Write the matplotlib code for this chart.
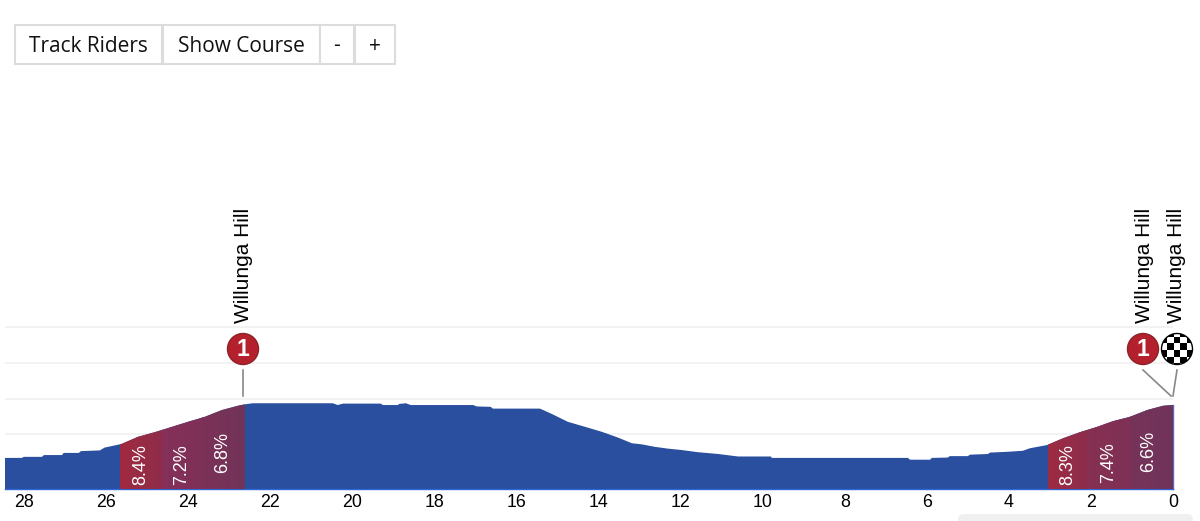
import numpy as np
import matplotlib
matplotlib.use('Agg')
import matplotlib.pyplot as plt
from matplotlib.colors import LinearSegmentedColormap
from matplotlib.patches import Rectangle, Circle, Polygon, FancyBboxPatch

# distance to go (km) and elevation (m)
km = [28.47, 28.06, 28.01, 27.57, 27.52, 27.08, 27.04, 26.67, 26.62, 26.16, 26.04, 25.63, 25.23,
      24.82, 24.40, 24.01, 23.60, 23.18, 22.79, 22.62, 22.43, 20.48, 20.36, 20.23, 19.31, 19.26,
      18.89, 18.87, 18.70, 18.58, 17.06, 16.97, 16.63, 16.58, 15.43, 15.14, 14.75, 14.33, 13.92,
      13.53, 13.19, 12.95, 12.63, 12.31, 11.97, 11.58, 11.09, 10.60, 9.80, 9.78, 6.46, 6.41, 5.92,
      5.88, 5.49, 5.44, 5.00, 4.95, 4.51, 4.46, 4.05, 3.66, 3.49, 3.07, 2.68, 2.27, 1.85, 1.46,
      1.05, 0.63, 0.24, 0.0]
elev = [134, 134, 137, 137, 142, 142, 148, 148, 153, 155, 163, 173, 193,
        206, 221, 235, 249, 268, 280, 284, 287, 287, 282, 286, 286, 282,
        282, 285, 287, 282, 282, 278, 277, 272, 272, 257, 235, 221, 207,
        191, 175, 172, 165, 160, 156, 150, 145, 138, 138, 134, 134, 129, 129,
        134, 135, 139, 139, 143, 145, 149, 151, 154, 161, 170, 189, 206, 221, 237,
        249, 268, 280, 282]

climb_start = [25.66, 24.65, 23.66, 3.05, 2.10, 1.05]
climb_end = [24.65, 23.66, 22.62, 2.10, 1.05, 0.0]
climb_label = ['8.4%', '7.2%', '6.8%', '8.3%', '7.4%', '6.6%']
climb_label_km = [25.16, 24.16, 23.16, 2.56, 1.58, 0.59]
climb_label_elev = [58, 58, 92, 58, 63, 95]
climb_left = ['#a02a40', '#85305a', '#7b3158', '#9e2b42', '#873052', '#773359']
climb_right = ['#8f2d4a', '#7e3157', '#723459', '#8d2d4c', '#7e3156', '#70345b']

tick_km = list(range(0, 29, 2))
grid_elev = [200, 300, 400, 500]
climb_km = [22.62, 0.0]

BLUE = '#2a4f9e'
GRID = '#f0f0f0'

W, H = 1200, 521
fig = plt.figure(figsize=(W / 100, H / 100), dpi=100)
plt.rcParams['font.family'] = ['Liberation Sans', 'DejaVu Sans']

# profile axes, 5..1173 px across and 320..489 px down
ax = fig.add_axes([5 / W, 1 - 489 / H, 1168 / W, 169 / H])
base, top = 47, 520
outline = list(zip(km, elev)) + [(km[-1], base), (km[0], base)]

for y in grid_elev:
    ax.axhline(y, color=GRID, linewidth=1.2, zorder=1)

ax.add_patch(Polygon(outline, closed=True, facecolor=BLUE, edgecolor='none', zorder=2))

for s, e, c0, c1 in zip(climb_start, climb_end, climb_left, climb_right):
    cmap = LinearSegmentedColormap.from_list('seg', [c0, c1])
    im = ax.imshow(np.linspace(0, 1, 64).reshape(1, -1), extent=[s, e, base, top],
                   aspect='auto', cmap=cmap, zorder=3, interpolation='bilinear')
    im.set_clip_path(Polygon(outline, closed=True, transform=ax.transData))

for x, y, t in zip(climb_label_km, climb_label_elev, climb_label):
    ax.text(x, y, t, rotation=90, color='white', fontsize=13, ha='center', va='bottom', zorder=4)

ax.set_xlim(km[0], 0)
ax.set_ylim(base, top)
ax.set_xticks(tick_km)
ax.set_xticklabels([str(k) for k in tick_km], fontsize=12.8, color='black')
ax.set_yticks([])
ax.tick_params(axis='x', length=0, pad=3.5)
for side in ['top', 'left']:
    ax.spines[side].set_visible(False)
ax.spines['bottom'].set_color('#2f66d6')
ax.spines['bottom'].set_linewidth(1)
ax.spines['right'].set_bounds(base, 282)
ax.spines['right'].set_color('#4a72c4')
ax.spines['right'].set_linewidth(1)
ax.patch.set_alpha(0)

# overlay in pixel coordinates for the page furniture
ui = fig.add_axes([0, 0, 1, 1], zorder=5)
ui.set_xlim(0, W)
ui.set_ylim(H, 0)
ui.axis('off')

buttons = [('Track Riders', 14.5, 162), ('Show Course', 162.5, 319.5), ('-', 320, 354), ('+', 355, 395)]
for label, x0, x1 in buttons:
    ui.add_patch(Rectangle((x0, 25), x1 - x0, 39, facecolor='white', edgecolor='#dcdcdc', linewidth=1.5))
    ui.text((x0 + x1) / 2, 46, label, fontsize=15, family='Open Sans', color='#111111', ha='center', va='center')

ui.add_patch(FancyBboxPatch((964, 520), 223, 6, boxstyle='round,pad=6', facecolor='#f0f0f0', edgecolor='none', clip_on=True))


def km_px(k):
    return ax.transData.transform((k, base))[0]


def red_badge(x, y):
    ui.add_patch(Circle((x, y), 15.5, facecolor='#b5202d', edgecolor='#8c2228', linewidth=1))
    ui.text(x, y + 0.5, '1', color='white', fontsize=16.5, fontweight='bold', ha='center', va='center')


hill_x = km_px(climb_km[0])
fin_x = km_px(climb_km[1])

# first climb
ui.plot([hill_x - 2, hill_x - 2], [370, 396], color='#888888', linewidth=1.2)
red_badge(hill_x - 2, 349)
ui.text(hill_x - 1, 323, 'Willunga Hill', rotation=90, fontsize=15, ha='center', va='bottom')

# last climb and finish
ui.plot([fin_x - 30, fin_x - 2], [370, 396], color='#888888', linewidth=1.2)
ui.plot([fin_x + 4, fin_x], [370, 396], color='#888888', linewidth=1.2)
red_badge(fin_x - 30, 349)
ui.text(fin_x - 29, 323, 'Willunga Hill', rotation=90, fontsize=15, ha='center', va='bottom')
ui.text(fin_x + 4, 323, 'Willunga Hill', rotation=90, fontsize=15, ha='center', va='bottom')

flag_x, flag_y = fin_x + 4, 349
check = (np.indices((6, 5)).sum(axis=0) + 1) % 2
flag = ui.imshow(check, cmap='gray', extent=[flag_x - 16.7, flag_x + 16.7, flag_y + 20.7, flag_y - 19.3],
                 aspect='auto', interpolation='nearest', zorder=3)
flag.set_clip_path(Circle((flag_x, flag_y), 15.5, transform=ui.transData))
ui.add_patch(Circle((flag_x, flag_y), 15.5, facecolor='none', edgecolor='black', linewidth=1, zorder=4))
ui.set_xlim(0, W)
ui.set_ylim(H, 0)

fig.savefig('out.png', dpi=100)
